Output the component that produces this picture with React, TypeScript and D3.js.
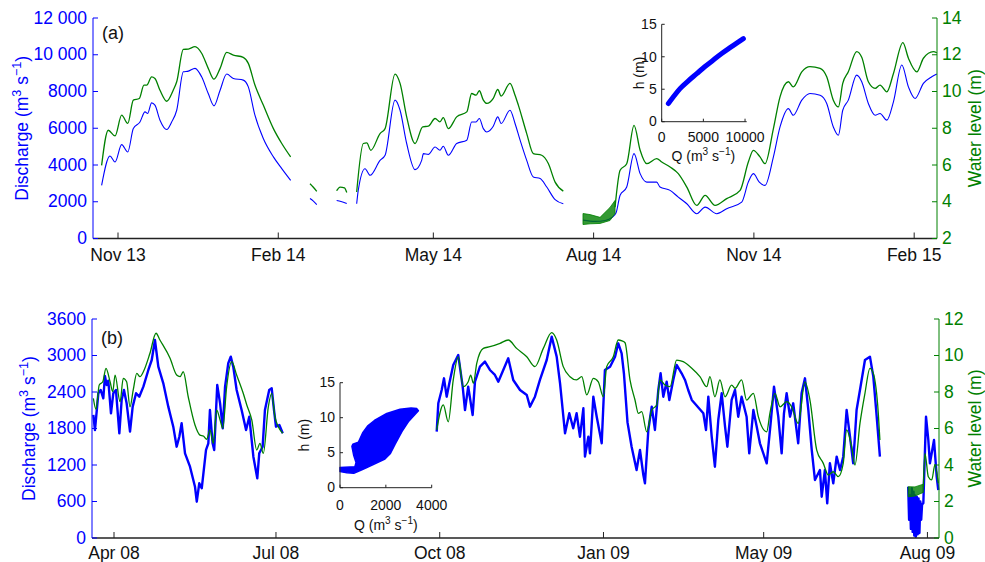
import React from "react";
import * as d3 from "d3";

type Pt = [number, number | null];

const FONT = "'Liberation Sans', Arial, Helvetica, sans-serif";
const BLUE = "#0000ff";
const GREEN = "#008000";

// ---------- panel (a): days since 1 Nov 2013 ----------
const tickDaysA = [0, 92, 181, 273, 365, 457];
const tickLabelsA = ["Nov 13", "Feb 14", "May 14", "Aug 14", "Nov 14", "Feb 15"];
const qTicksA = [0, 2000, 4000, 6000, 8000, 10000, 12000];
const hTicksA = [2, 4, 6, 8, 10, 12, 14];

// discharge (m3/s), null = gap
const dischargeA: Pt[] = [
  [-9.4, 2890], [-4.6, 4490], [-1.7, 4160], [2.1, 5110], [5.6, 4710], [8.8, 5980], [12.6, 6340],
  [15.5, 6890], [17.0, 6800], [19.3, 7380], [21.2, 7255], [24.1, 6440], [28.0, 5930], [30.8, 6340],
  [33.7, 6980], [37.5, 9070], [40.4, 9110], [44.2, 9260], [48.0, 8800], [51.8, 7890], [55.1, 7220],
  [58.6, 8070], [62.4, 8950], [66.2, 8710], [71.9, 8620], [74.8, 8250], [78.6, 6710], [83.4, 5440],
  [89.2, 4440], [94.0, 3800], [99.1, 3160],
  [105, null],
  [110.2, 2180], [112, 2050], [114.1, 1850],
  [120, null],
  [125.5, 2070], [128, 2010], [131.3, 1900],
  [134, null],
  [137.0, 1890], [137.9, 2620], [141.8, 3800], [144.7, 3440], [150.4, 4250], [153.3, 4530],
  [159.0, 7530], [161.9, 6980], [165.7, 5170], [170.5, 3750], [174.3, 4250], [175.3, 4620],
  [178.1, 4580], [182.0, 4980], [184.8, 4800], [186.7, 5020], [189.6, 4530], [194.4, 5170],
  [200.2, 5350], [203.0, 6340], [205.5, 6340], [207.4, 6530], [209.7, 5980], [211.7, 5800],
  [215.4, 6110], [218.0, 6620], [219.9, 6260], [225.0, 6980], [227.9, 6260], [230.8, 5350],
  [234.6, 4250], [238.4, 3350], [242.3, 3260], [246.1, 2800], [250.9, 2110], [255.6, 1890],
  [260, null],
  [266.9, 1000], [273.8, 930], [279.6, 980], [283.6, 1150], [285.9, 1400], [288.2, 2350],
  [292.0, 2800], [296.2, 4620], [299.7, 3530], [303.5, 3070], [309.2, 3070], [311.1, 2800],
  [316.9, 2620], [321.6, 2250], [326.5, 1890], [332.2, 1350], [337.0, 1710], [343.7, 1350],
  [349.4, 1620], [358.0, 1980], [361.8, 3070], [364.7, 3530], [368.1, 3070], [371.4, 2890],
  [376.2, 4440], [380.0, 6070], [384.8, 7070], [387.6, 6710], [392.5, 7530], [397.2, 7890],
  [403.0, 7800], [406.8, 7350], [410.6, 6070], [413.5, 5620], [416.0, 6980], [419.2, 7530],
  [424.0, 8890], [426.9, 8530], [430.7, 7350], [434.6, 6710], [437.4, 6800], [441.3, 6440],
  [445.1, 7440], [449.9, 9440], [453.7, 8250], [457.5, 7620], [462.3, 8440], [467.1, 8800],
  [470.0, 8950],
];

// water level (m)
const levelA: Pt[] = [
  [-9.4, 5.98], [-5.6, 7.89], [-1.7, 7.58], [2.1, 8.71], [5.6, 8.26], [8.8, 9.53], [12.2, 9.62],
  [14.9, 10.35], [16.5, 10.35], [19.3, 10.8], [21.2, 10.71], [24.1, 10.07], [28.0, 9.47],
  [31.7, 10.07], [33.7, 10.53], [37.5, 12.29], [40.4, 12.31], [44.2, 12.44], [48.0, 12.08],
  [51.8, 11.26], [55.1, 10.67], [58.6, 11.26], [62.4, 12.13], [66.2, 11.98], [71.9, 11.86],
  [74.8, 11.53], [78.6, 10.35], [83.4, 9.26], [89.2, 7.98], [94.0, 7.17], [99.1, 6.44],
  [105, null],
  [110.2, 4.98], [112, 4.8], [114.1, 4.56],
  [120, null],
  [125.5, 4.6], [127.5, 4.8], [130, 4.75], [131.3, 4.5],
  [134, null],
  [137.0, 4.53], [140.8, 7.17], [142.8, 7.2], [145.1, 6.8], [150.4, 7.71], [153.3, 7.98],
  [159.0, 10.95], [161.9, 10.44], [165.7, 8.62], [170.5, 7.17], [174.9, 8.08], [178.1, 8.11],
  [182.0, 8.53], [184.8, 8.35], [186.7, 8.58], [189.6, 7.98], [194.4, 8.62], [200.2, 8.89],
  [203.0, 9.89], [205.5, 9.8], [207.4, 10.04], [209.7, 9.53], [211.7, 9.35], [215.4, 9.62],
  [218.0, 10.11], [219.9, 9.75], [225.0, 10.44], [227.9, 9.8], [229.8, 9.26], [234.6, 7.71],
  [238.4, 6.62], [243.2, 6.53], [247.0, 6.08], [250.9, 5.07], [255.6, 4.58],
  [270, null],
  [285.3, 3.7], [288.2, 5.71], [292.0, 6.07], [296.2, 8.16], [299.7, 6.8], [303.5, 6.07],
  [309.2, 6.35], [312.1, 6.16], [316.9, 5.89], [321.6, 5.53], [326.5, 4.8], [332.2, 3.8],
  [337.0, 4.35], [342.7, 3.8], [349.4, 4.17], [357.1, 4.62], [361.8, 6.16], [364.7, 6.8],
  [368.5, 6.44], [371.4, 6.07], [376.2, 7.98], [380.0, 9.71], [384.8, 10.53], [387.6, 10.25],
  [392.5, 11.07], [397.2, 11.35], [403.0, 11.26], [406.8, 10.8], [410.6, 9.53], [413.5, 9.16],
  [416.0, 10.44], [419.2, 11.07], [424.0, 12.17], [426.9, 11.86], [430.7, 10.53], [434.6, 10.17],
  [437.4, 10.35], [441.3, 9.98], [445.1, 10.98], [450.5, 12.66], [453.7, 11.81], [458.5, 11.07],
  [462.3, 11.81], [468.0, 12.17], [470.0, 12.11],
];

// noisy low-water stretch in Aug 2014: [day, min, max]
const levelBandA: [number, number, number][] = [
  [266.9, 2.76, 3.36], [271, 2.8, 3.3], [276.7, 2.82, 3.15], [282.4, 2.98, 3.69], [285.3, 3.36, 4.07],
];

// ---------- panel (b): days since 1 Apr 2008 ----------
const tickDaysB = [0, 91, 183, 275, 365, 457];
const tickLabelsB = ["Apr 08", "Jul 08", "Oct 08", "Jan 09", "May 09", "Aug 09"];
const qTicksB = [0, 600, 1200, 1800, 2400, 3000, 3600];
const hTicksB = [0, 2, 4, 6, 8, 10, 12];

const dischargeB: Pt[] = [
  [-11.6, 2022], [-10.7, 1775], [-8.8, 2379], [-7.5, 2433], [-6.0, 2297], [-5.1, 2663], [-4.1, 2515],
  [-3.2, 2586], [-1.7, 2050], [-0.4, 2379], [1.1, 2433], [3.0, 1721], [4.3, 2269], [5.6, 2433],
  [7.1, 2214], [9.0, 1748], [10.5, 2159], [12.4, 2379], [14.2, 2323], [16.5, 2488], [19.3, 2762],
  [21.2, 2926], [23.0, 3255], [24.9, 2816], [27.7, 2543], [30.5, 2159], [33.3, 1830], [35.2, 1501],
  [36.7, 1665], [38.0, 1886], [39.9, 1392], [42.7, 1172], [45.5, 843], [46.5, 597], [47.9, 899],
  [49.3, 817], [51.7, 1447], [53.0, 1557], [53.9, 2104], [55.4, 1557], [56.3, 1447], [58.0, 2515],
  [59.6, 2214], [61.1, 1803], [62.4, 2488], [64.2, 2872], [65.6, 2981], [67.0, 2816], [68.9, 2433],
  [71.7, 2104], [74.2, 1775], [76.0, 1994], [78.3, 1337], [80.5, 981], [81.6, 1392], [83.5, 1501],
  [84.8, 2104], [87.2, 2433], [88.6, 2461], [89.9, 2104], [91.0, 1830], [92.9, 1858], [94.8, 1721],
  [130, null],
  [181.3, 1748], [182.2, 2214], [184.1, 2433], [185.4, 2625], [186.9, 2323], [188.4, 2543],
  [190.6, 2844], [193.4, 3008], [195.9, 2488], [197.2, 2104], [199.0, 2488], [201.5, 2022],
  [202.8, 2570], [205.6, 2816], [208.4, 2899], [211.2, 2762], [214.0, 2680], [215.9, 2570],
  [218.7, 2762], [221.5, 2954], [224.3, 2598], [228.1, 2433], [231.9, 2351], [233.7, 2159],
  [236.5, 2323], [239.3, 2598], [243.1, 2926], [245.9, 3310], [248.7, 2981], [250.6, 2543],
  [253.4, 1721], [255.8, 2050], [258.0, 1803], [259.9, 2050], [261.8, 1665], [263.7, 2132],
  [264.6, 1337], [266.5, 1665], [267.4, 1392], [269.3, 2323], [271.2, 1994], [274.0, 1557],
  [275.8, 2762], [278.7, 2816], [281.5, 2981], [283.3, 3200], [285.2, 3036], [286.5, 2700],
  [288.5, 1900], [290.8, 1501], [293.6, 1118], [295.5, 1447], [297.4, 1036], [298.3, 899],
  [300.2, 1776], [302.1, 2159], [303.9, 1776], [305.8, 2433], [307.1, 2708], [308.6, 2323],
  [310.5, 2570], [312.0, 2269], [314.2, 2598], [316.1, 2844], [318.9, 2708], [320.8, 2598],
  [322.6, 2433], [324.6, 2269], [331.1, 2050], [332.6, 1776], [333.9, 2323], [335.8, 1665],
  [337.6, 1172], [339.5, 1940], [341.4, 2379], [343.3, 1830], [344.6, 1501], [347.0, 2269],
  [348.9, 2433], [350.7, 1994], [352.6, 2323], [355.4, 1994], [356.9, 1392], [359.2, 2104],
  [361.1, 1830], [362.9, 1557], [366.7, 1228], [368.9, 1886], [370.8, 2488], [373.2, 1994],
  [375.1, 1392], [376.4, 2050], [377.9, 2379], [379.8, 1994], [381.6, 2214], [384.4, 1557],
  [386.3, 2379], [388.2, 2625], [390.1, 2104], [392.0, 1447], [393.8, 954], [396.6, 1118],
  [397.6, 679], [399.4, 1118], [400.7, 570], [402.2, 1228], [404.1, 899], [406.0, 1337],
  [407.9, 1118], [409.7, 1337], [411.6, 2104], [413.5, 1665], [415.3, 1228], [417.2, 2104],
  [419.1, 2433], [421.9, 2926], [424.7, 2981], [426.6, 2652], [428.5, 1994], [430.3, 1337],
  [440, null],
  [446.2, 843], [446.7, 300], [447.2, 700], [447.7, 150], [448.2, 820], [448.7, 100], [449.2, 760],
  [449.6, 40], [450.0, 700], [450.5, 20], [451.0, 680], [451.5, 60], [452.0, 650], [452.5, 80],
  [453.0, 600], [453.5, 300], [454.0, 560], [454.7, 570], [456.2, 1994], [457.5, 1611],
  [458.4, 1228], [460.7, 1611], [462.2, 1008], [463.1, 789],
];

const levelB: Pt[] = [
  [-11.6, 7.65], [-10.1, 7.05], [-8.3, 8.38], [-6.3, 8.56], [-4.5, 9.3], [-2.2, 8.56], [-0.7, 8.02],
  [0.6, 8.93], [3.4, 7.47], [5.2, 8.75], [7.1, 8.56], [9.0, 7.19], [10.8, 8.11], [12.8, 9.02],
  [14.6, 8.84], [16.5, 9.11], [20.2, 10.12], [23.6, 11.22], [25.8, 10.85], [31.5, 9.85],
  [35.2, 8.93], [37.1, 8.84], [38.9, 9.11], [41.7, 7.74], [45.5, 6.19], [48.3, 5.64], [50.2, 5.59],
  [52.1, 5.41], [53.9, 5.92], [55.8, 5.19], [57.7, 7.01], [59.6, 6.47], [61.1, 6.01], [63.3, 8.29],
  [66.1, 9.66], [68.9, 8.93], [72.6, 7.93], [74.6, 7.29], [77.4, 6.47], [80.2, 4.82], [82.0, 5.19],
  [83.9, 4.64], [86.7, 7.19], [88.6, 7.93], [90.4, 6.65], [92.3, 6.1], [94.8, 5.74],
  [130, null],
  [181.3, 5.92], [185.0, 7.29], [187.8, 6.37], [190.6, 8.66], [193.4, 9.93], [196.2, 8.29],
  [199.0, 8.56], [200.4, 8.93], [201.9, 8.48], [203.8, 9.57], [207.5, 10.39], [211.2, 10.48],
  [216.9, 10.67], [221.5, 10.85], [226.2, 10.39], [231.9, 9.93], [236.5, 9.39], [241.2, 10.39],
  [245.9, 11.25], [248.7, 10.85], [252.4, 9.39], [256.2, 8.84], [259.9, 8.66], [262.8, 8.84],
  [265.6, 7.84], [269.3, 8.75], [272.1, 8.56], [274.9, 7.74], [276.8, 9.39], [280.5, 9.93],
  [283.3, 10.85], [285.4, 10.8], [287.1, 10.7], [289.9, 8.66], [292.7, 7.56], [294.6, 6.83],
  [296.5, 6.92], [299.3, 5.82], [302.1, 7.01], [304.9, 7.29], [306.7, 8.66], [309.6, 8.38],
  [312.4, 8.29], [316.1, 9.75], [319.8, 9.66], [324.6, 9.3], [329.2, 8.84], [333.0, 8.29],
  [334.8, 8.84], [337.6, 7.74], [340.4, 8.66], [343.3, 7.74], [347.0, 8.38], [348.9, 8.2],
  [352.6, 8.66], [355.4, 7.56], [359.2, 7.93], [362.0, 6.65], [366.7, 5.82], [368.5, 6.83],
  [371.3, 7.93], [374.2, 7.19], [377.9, 7.47], [380.7, 7.19], [384.4, 6.28], [388.2, 8.56],
  [391.0, 7.56], [394.8, 4.82], [398.5, 4.09], [401.3, 3.45], [404.1, 3.63], [406.9, 3.36],
  [409.7, 4.09], [411.6, 5.92], [414.4, 5.0], [416.3, 4.0], [419.1, 6.28], [421.9, 7.93],
  [424.7, 9.3], [426.6, 9.02], [429.4, 6.83], [430.3, 5.37],
  [440, null],
  [454.7, 2.8], [455.6, 4.64], [457.5, 3.36], [459.4, 3.18], [461.2, 4.0], [463.1, 3.0],
];

const levelBandB: [number, number, number][] = [
  [446.2, 2.26, 2.81], [450.0, 2.3, 2.8], [454.7, 2.5, 2.95],
];

// ---------- insets: stage-discharge ----------
const ratingQA = [800, 1500, 2200, 3200, 4200, 5200, 6200, 7200, 8200, 9000, 9800];
const ratingHA = [2.8, 4.0, 5.1, 6.3, 7.4, 8.5, 9.5, 10.5, 11.4, 12.1, 12.8];

// outline of the (b) scatter cloud
const cloudQB = [0, 650, 700, 600, 520, 560, 800, 1000, 1200, 1500, 2040, 2620, 3100, 3350, 3420,
  3250, 3000, 2700, 2400, 2200, 1960, 1450, 980, 600, 300, 0];
const cloudHB = [2.9, 3.0, 3.6, 4.6, 5.9, 6.2, 6.5, 7.9, 8.8, 9.6, 10.6, 11.2, 11.4, 11.3, 11.0,
  10.4, 9.5, 8.0, 6.2, 4.9, 4.1, 3.3, 2.6, 2.05, 2.15, 2.3];

const fmtQ = (v: number) => (v >= 10000 ? `${Math.floor(v / 1000)} ${String(v % 1000).padStart(3, "0")}` : `${v}`);

function Units({ pre, size }: { pre: string; size: number }) {
  const up = size * 0.42;
  const small = size * 0.72;
  return (
    <>
      <tspan>{pre}(m</tspan>
      <tspan dy={-up} fontSize={small}>3</tspan>
      <tspan dy={up}> s</tspan>
      <tspan dy={-up} fontSize={small}>−1</tspan>
      <tspan dy={up}>)</tspan>
    </>
  );
}

type PanelProps = {
  left: number; right: number; top: number; bottom: number;
  xDomain: [number, number];
  tickDays: number[]; tickLabels: string[];
  qMax: number; qTicks: number[];
  hDomain: [number, number]; hTicks: number[];
  discharge: Pt[]; level: Pt[]; band: [number, number, number][];
  qWidth: number; smoothQ: boolean;
  tag: string; tagY: number;
  leftLabelX: number; xLabelY: number;
};

function Panel(p: PanelProps) {
  const x = d3.scaleLinear().domain(p.xDomain).range([p.left, p.right]);
  const yQ = d3.scaleLinear().domain([0, p.qMax]).range([p.bottom, p.top]);
  const yH = d3.scaleLinear().domain(p.hDomain).range([p.bottom, p.top]);
  const qLine = d3.line<Pt>().defined((d) => d[1] !== null).x((d) => x(d[0])).y((d) => yQ(d[1] as number))
    .curve(p.smoothQ ? d3.curveMonotoneX : d3.curveLinear);
  const hLine = d3.line<Pt>().defined((d) => d[1] !== null).x((d) => x(d[0])).y((d) => yH(d[1] as number))
    .curve(d3.curveMonotoneX);
  const band = d3.area<[number, number, number]>().x((d) => x(d[0])).y0((d) => yH(d[1])).y1((d) => yH(d[2]));
  const fs = 17.5;
  const midY = (p.top + p.bottom) / 2;
  return (
    <g>
      <path d={qLine(p.discharge) ?? ""} fill="none" stroke={BLUE} strokeWidth={p.qWidth} strokeLinejoin="round" />
      <path d={hLine(p.level) ?? ""} fill="none" stroke={GREEN} strokeWidth={1.3} strokeLinejoin="round" />
      <path d={band(p.band) ?? ""} fill={GREEN} fillOpacity={0.8} stroke={GREEN} strokeWidth={0.8} />

      {/* bottom axis */}
      <line x1={p.left} x2={p.right} y1={p.bottom} y2={p.bottom} stroke="#222" strokeWidth={1.6} />
      {p.tickDays.map((d, i) => (
        <g key={i}>
          <line x1={x(d)} x2={x(d)} y1={p.bottom} y2={p.bottom - 6} stroke="#222" strokeWidth={1} />
          <text x={x(d)} y={p.xLabelY} textAnchor="middle" fontSize={fs} fill="#111">{p.tickLabels[i]}</text>
        </g>
      ))}

      {/* left axis */}
      <line x1={p.left} x2={p.left} y1={p.top} y2={p.bottom} stroke={BLUE} strokeWidth={1} />
      {p.qTicks.map((v) => (
        <g key={v}>
          <line x1={p.left} x2={p.left + 5} y1={yQ(v)} y2={yQ(v)} stroke={BLUE} />
          <text x={p.left - 6} y={yQ(v)} dy="0.32em" textAnchor="end" fontSize={fs} fill={BLUE}>{fmtQ(v)}</text>
        </g>
      ))}
      <text transform={`translate(${p.leftLabelX},${midY}) rotate(-90)`} textAnchor="middle" fontSize={fs} fill={BLUE}>
        <Units pre="Discharge " size={fs} />
      </text>

      {/* right axis */}
      <line x1={p.right} x2={p.right} y1={p.top} y2={p.bottom} stroke={GREEN} strokeWidth={1} />
      {p.hTicks.map((v) => (
        <g key={v}>
          <line x1={p.right - 5} x2={p.right} y1={yH(v)} y2={yH(v)} stroke={GREEN} />
          <text x={p.right + 5} y={yH(v)} dy="0.32em" textAnchor="start" fontSize={fs} fill={GREEN}>{v}</text>
        </g>
      ))}
      <text transform={`translate(981,${midY}) rotate(-90)`} textAnchor="middle" fontSize={fs} fill={GREEN}>
        Water level (m)
      </text>

      <text x={p.left + 9} y={p.tagY} fontSize={18} fill="#111">{p.tag}</text>
    </g>
  );
}

type InsetProps = {
  left: number; right: number; top: number; bottom: number;
  qDomain: [number, number]; qTicks: number[];
  hTicks: number[];
  hLabelX: number; qLabelY: number; tickLabelY: number;
  children: (x: d3.ScaleLinear<number, number>, y: d3.ScaleLinear<number, number>) => React.ReactNode;
};

function Inset(p: InsetProps) {
  const x = d3.scaleLinear().domain(p.qDomain).range([p.left, p.right]);
  const y = d3.scaleLinear().domain([0, 15]).range([p.bottom, p.top]);
  const fs = 14;
  return (
    <g>
      {p.children(x, y)}
      <line x1={p.left} x2={p.left} y1={p.top} y2={p.bottom} stroke="#222" />
      <line x1={p.left} x2={p.right} y1={p.bottom} y2={p.bottom} stroke="#222" />
      {p.hTicks.map((v) => (
        <g key={v}>
          <line x1={p.left} x2={p.left + 3} y1={y(v)} y2={y(v)} stroke="#222" />
          <text x={p.left - 5} y={y(v)} dy="0.34em" textAnchor="end" fontSize={fs} fill="#111">{v}</text>
        </g>
      ))}
      {p.qTicks.map((v) => (
        <g key={v}>
          <line x1={x(v)} x2={x(v)} y1={p.bottom} y2={p.bottom - 3} stroke="#222" />
          <text x={x(v)} y={p.tickLabelY} textAnchor="middle" fontSize={fs} fill="#111">{v}</text>
        </g>
      ))}
      <text transform={`translate(${p.hLabelX},${(p.top + p.bottom) / 2}) rotate(-90)`} textAnchor="middle" fontSize={fs} fill="#111">
        h (m)
      </text>
      <text x={x(p.qTicks[Math.floor(p.qTicks.length / 2)])} y={p.qLabelY} textAnchor="middle" fontSize={fs} fill="#111">
        <Units pre="Q " size={fs} />
      </text>
    </g>
  );
}

export default function App() {
  const ratingA = ratingQA.map((q, i) => [q, ratingHA[i]] as [number, number]);
  const cloudB = cloudQB.map((q, i) => [q, cloudHB[i]] as [number, number]);
  return (
    <div style={{ position: "absolute", left: 0, top: 0 }}>
      <svg width={985} height={562} style={{ display: "block", background: "#fff" }} fontFamily={FONT}>
        <Panel
          left={93} right={937} top={18} bottom={238.5}
          xDomain={[-14.35, 470.1]} tickDays={tickDaysA} tickLabels={tickLabelsA}
          qMax={12000} qTicks={qTicksA} hDomain={[2, 14]} hTicks={hTicksA}
          discharge={dischargeA} level={levelA} band={levelBandA} qWidth={1.1} smoothQ={true}
          tag="(a)" tagY={39} leftLabelX={28} xLabelY={261}
        />
        <Panel
          left={92} right={939} top={319} bottom={538}
          xDomain={[-12.36, 463.5]} tickDays={tickDaysB} tickLabels={tickLabelsB}
          qMax={3600} qTicks={qTicksB} hDomain={[0, 12]} hTicks={hTicksB}
          discharge={dischargeB} level={levelB} band={levelBandB} qWidth={2.4} smoothQ={false}
          tag="(b)" tagY={344} leftLabelX={35} xLabelY={559}
        />
        <Inset
          left={661.7} right={746.7} top={24.3} bottom={121.7}
          qDomain={[0, 10200]} qTicks={[0, 5000, 10000]} hTicks={[0, 5, 10, 15]}
          hLabelX={644} qLabelY={161} tickLabelY={141.5}
        >
          {(x, y) => (
            <path
              d={d3.line<[number, number]>().x((d) => x(d[0])).y((d) => y(d[1])).curve(d3.curveMonotoneX)(ratingA) ?? ""}
              fill="none" stroke={BLUE} strokeWidth={5} strokeLinecap="round"
            />
          )}
        </Inset>
        <Inset
          left={340} right={431.7} top={382.7} bottom={487.7}
          qDomain={[0, 4000]} qTicks={[0, 2000, 4000]} hTicks={[0, 5, 10, 15]}
          hLabelX={309} qLabelY={530} tickLabelY={510}
        >
          {(x, y) => (
            <path
              d={d3.line<[number, number]>().x((d) => x(d[0])).y((d) => y(d[1])).curve(d3.curveLinearClosed)(cloudB) ?? ""}
              fill={BLUE} stroke={BLUE} strokeWidth={1.5} strokeLinejoin="round"
            />
          )}
        </Inset>
      </svg>
    </div>
  );
}
